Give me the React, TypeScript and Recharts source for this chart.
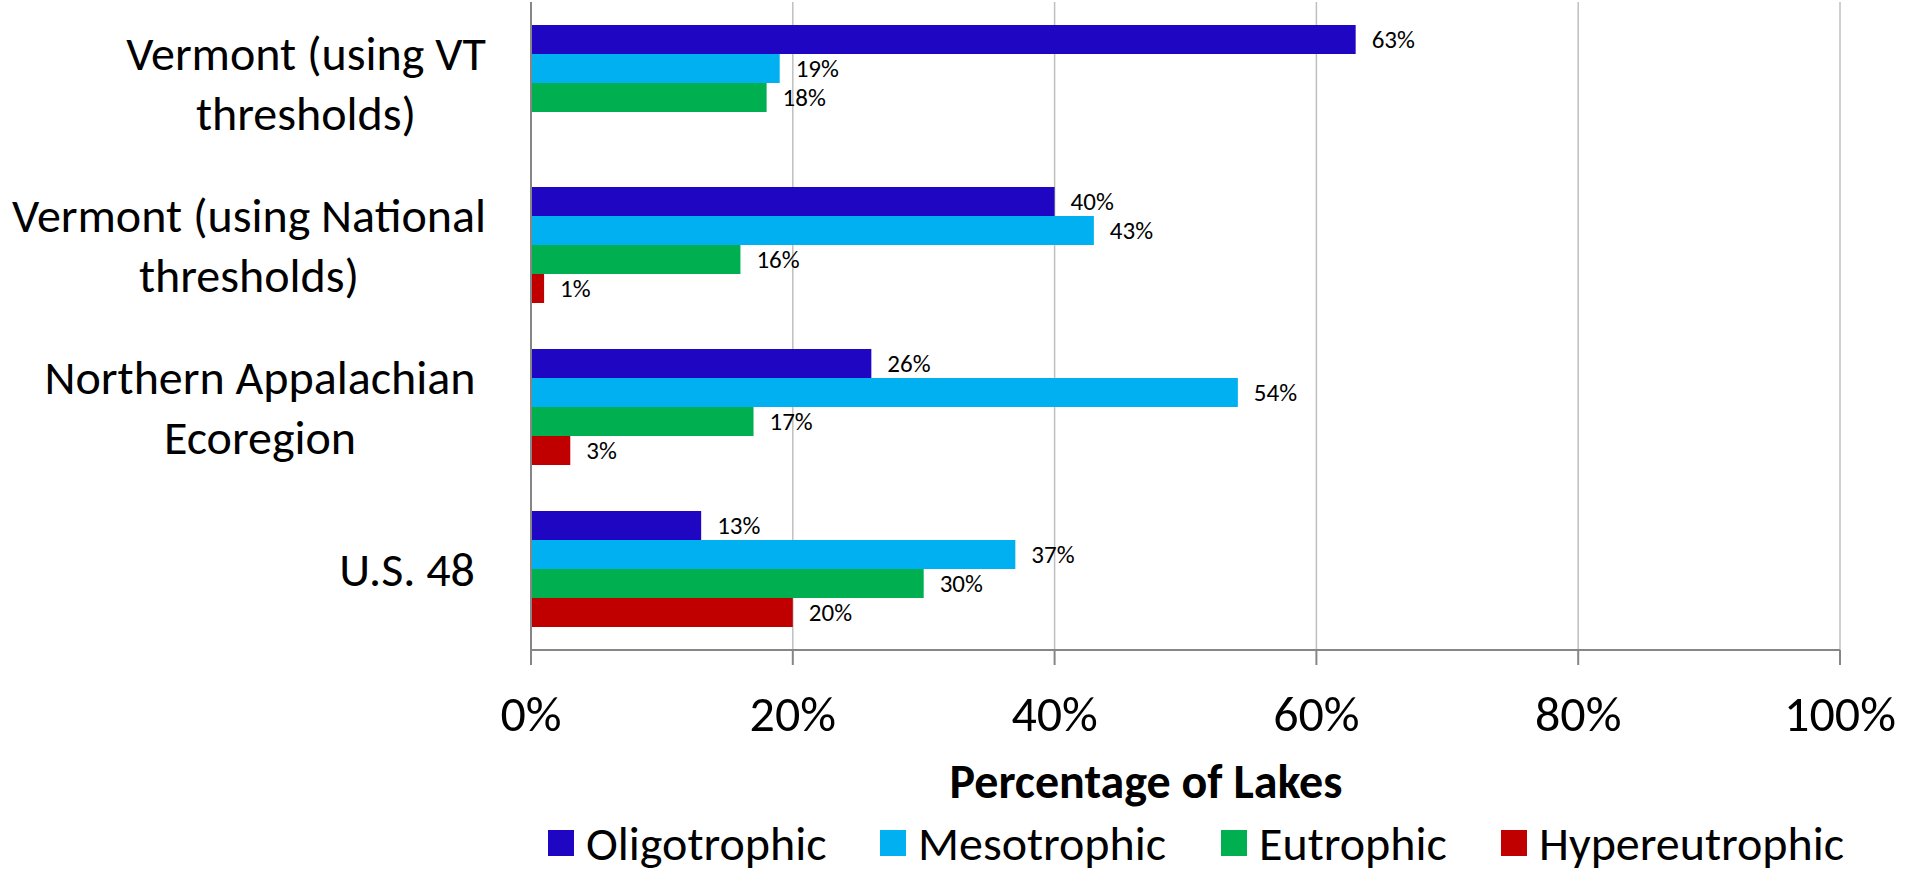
import { BarChart, Bar, XAxis, YAxis, CartesianGrid, LabelList } from 'recharts'

const regions = [
  'Vermont (using VT thresholds)',
  'Vermont (using National thresholds)',
  'Northern Appalachian Ecoregion',
  'U.S. 48',
]

const oligotrophic = [63, 40, 26, 13]
const mesotrophic = [19, 43, 54, 37]
const eutrophic = [18, 16, 17, 30]
const hypereutrophic = [null, 1, 3, 20]

const xTicks = [0, 20, 40, 60, 80, 100]

const series = [
  { key: 'oligotrophic', name: 'Oligotrophic', color: '#1F06C2' },
  { key: 'mesotrophic', name: 'Mesotrophic', color: '#00B0F0' },
  { key: 'eutrophic', name: 'Eutrophic', color: '#00B050' },
  { key: 'hypereutrophic', name: 'Hypereutrophic', color: '#C00000' },
]

const data = regions.map((region, i) => ({
  region,
  oligotrophic: oligotrophic[i],
  mesotrophic: mesotrophic[i],
  eutrophic: eutrophic[i],
  hypereutrophic: hypereutrophic[i],
}))

const FONT = "Carlito, Lato, sans-serif"

// wrapped category labels; lines of one label share a centre
const tickLines: Record<string, { lines: string[]; x: number }> = {
  'Vermont (using VT thresholds)': {
    lines: ['Vermont (using VT', 'thresholds)'],
    x: 306,
  },
  'Vermont (using National thresholds)': {
    lines: ['Vermont (using National', 'thresholds)'],
    x: 249,
  },
  'Northern Appalachian Ecoregion': {
    lines: ['Northern Appalachian', 'Ecoregion'],
    x: 260,
  },
  'U.S. 48': { lines: ['U.S. 48'], x: 407 },
}

// legend swatch positions along the bottom row
const legendLeft = [548, 880, 1221, 1501]

const RegionTick = ({ y, payload }: any) => {
  const label = tickLines[payload.value] ?? { lines: [payload.value], x: 400 }
  const lineHeight = 60
  const top = y - ((label.lines.length - 1) * lineHeight) / 2
  return (
    <g>
      {label.lines.map((line, i) => (
        <text
          key={i}
          x={label.x}
          y={top + i * lineHeight}
          dy='0.35em'
          textAnchor='middle'
          fontSize={48}
          fontFamily={FONT}
          fill='#000'
        >
          {line}
        </text>
      ))}
    </g>
  )
}

export default function App() {
  return (
    <div
      style={{
        position: 'absolute',
        left: 0,
        top: 0,
        width: 1915,
        height: 870,
        background: '#fff',
        fontFamily: FONT,
      }}
    >
      <BarChart
        width={1915}
        height={870}
        data={data}
        layout='vertical'
        barCategoryGap={23}
        barGap={0}
        margin={{ top: 2, right: 75, bottom: 0, left: 0 }}
      >
        <CartesianGrid horizontal={false} stroke='#BFBFBF' strokeWidth={1.5} />
        <XAxis
          type='number'
          domain={[0, 100]}
          ticks={xTicks}
          tickFormatter={(v) => `${v}%`}
          height={220}
          tickSize={15}
          tickMargin={30}
          stroke='#868686'
          strokeWidth={2}
          tick={{ fontSize: 50, fontFamily: FONT, fill: '#000' }}
        />
        <YAxis
          type='category'
          dataKey='region'
          width={531}
          tickLine={false}
          stroke='#868686'
          strokeWidth={2}
          tick={<RegionTick />}
        />
        {series.map((s) => (
          <Bar
            key={s.key}
            dataKey={s.key}
            name={s.name}
            fill={s.color}
            isAnimationActive={false}
          >
            <LabelList
              dataKey={s.key}
              position='right'
              offset={16}
              formatter={(v: any) => (v == null ? '' : `${v}%`)}
              style={{ fontSize: 25, fontFamily: FONT, fill: '#000' }}
            />
          </Bar>
        ))}
      </BarChart>

      {/* axis title */}
      <div
        style={{
          position: 'absolute',
          left: 896,
          width: 500,
          top: 754,
          textAlign: 'center',
          fontSize: 48,
          fontWeight: 700,
          lineHeight: '56px',
        }}
      >
        Percentage of Lakes
      </div>

      {/* legend */}
      {series.map((s, i) => (
        <div
          key={s.key}
          style={{
            position: 'absolute',
            left: legendLeft[i],
            top: 815,
            height: 56,
            display: 'flex',
            alignItems: 'center',
            fontSize: 48,
            whiteSpace: 'nowrap',
          }}
        >
          <div
            style={{
              width: 26,
              height: 26,
              background: s.color,
              marginRight: 12,
            }}
          />
          <span>{s.name}</span>
        </div>
      ))}
    </div>
  )
}
